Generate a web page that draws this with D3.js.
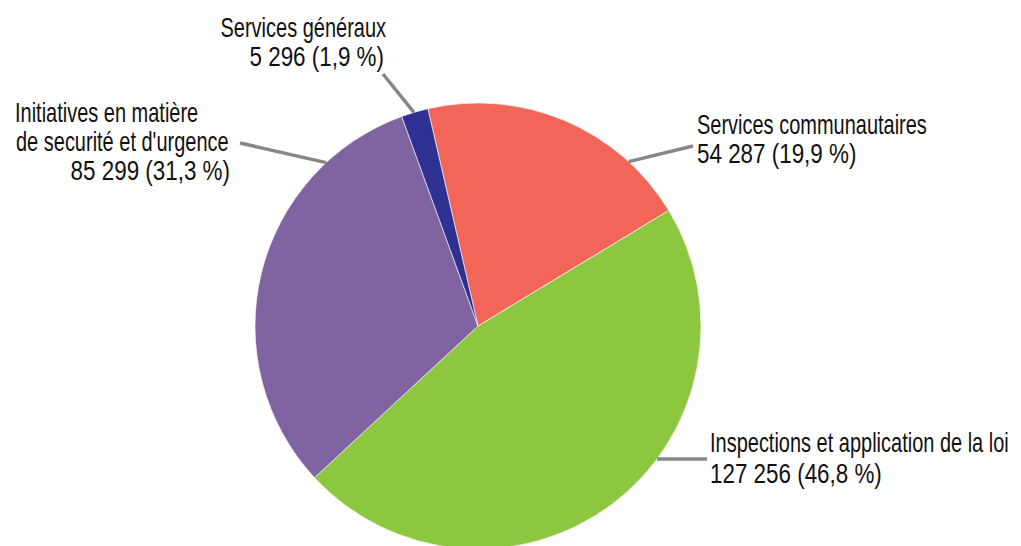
<!DOCTYPE html>
<html>
<head>
<meta charset="utf-8">
<script src="https://cdn.jsdelivr.net/npm/d3@7"></script>
<style>
  body { margin: 0; background: #fff; }
  text { font-family: "Liberation Sans", Arial, sans-serif; font-size: 27px; fill: #111; }
</style>
</head>
<body>
<script>
let categories = ['Services communautaires', 'Inspections et application de la loi', "Initiatives en matière de securité et d'urgence", 'Services généraux']
let values = [54287, 127256, 85299, 5296]
let valueLabels = ['54 287 (19,9 %)', '127 256 (46,8 %)', '85 299 (31,3 %)', '5 296 (1,9 %)']
let colors = ['#f26659', '#8dc63f', '#8064a2', '#2e3192']

// label layout: lines of text, where the leader line leaves the pie and where it ends
let labelLayout = [
    {lines: [['Services communautaires', 697, 134, 'start'], ['54 287 (19,9 %)', 697, 163, 'start']], angle: 42.5, end: [693, 146]},
    {lines: [['Inspections et application de la loi', 710, 452, 'start'], ['127 256 (46,8 %)', 710, 483, 'start']], angle: 126.6, end: [707, 459]},
    {lines: [['Initiatives en matière', 15, 122, 'start'], ["de securité et d'urgence", 16, 151, 'start'], ['85 299 (31,3 %)', 230, 180, 'end']], angle: -42.9, end: [240, 143]},
    {lines: [['Services généraux', 386, 37, 'end'], ['5 296 (1,9 %)', 384, 66, 'end']], angle: -16.7, end: [383, 74]}
]

const W = 1021, H = 546
const CX = 478, CY = 326, R = 223
const START = -13.0 * Math.PI / 180
const SQUEEZE = 0.74      // condensed look for words
const SQUEEZE_NUM = 0.83  // digits are wider in the original font

let svg = d3.select('body').append('svg')
    .attr('width', W)
    .attr('height', H)

let pie = d3.pie()
    .sort(null)
    .value(d => d)
    .startAngle(START)
    .endAngle(START + 2 * Math.PI)

let arc = d3.arc().innerRadius(0).outerRadius(R)

let g = svg.append('g').attr('transform', `translate(${CX},${CY})`)

g.selectAll('path')
    .data(pie(values))
    .join('path')
    .attr('d', arc)
    .attr('fill', (d, i) => colors[i])
    .attr('stroke', '#fff')
    .attr('stroke-width', 0.6)

// leader lines
svg.selectAll('.leader')
    .data(labelLayout)
    .join('line')
    .classed('leader', true)
    .attr('x1', d => CX + R * Math.sin(d.angle * Math.PI / 180))
    .attr('y1', d => CY - R * Math.cos(d.angle * Math.PI / 180))
    .attr('x2', d => d.end[0])
    .attr('y2', d => d.end[1])
    .attr('stroke', '#878787')
    .attr('stroke-width', 3.5)

// labels
labelLayout.forEach((lab, i) => {
    let n = lab.lines.length
    svg.selectAll('.lab' + i)
        .data(lab.lines)
        .join('text')
        .attr('class', 'lab' + i)
        .attr('transform', (d, j) => `translate(${d[1]},${d[2]}) scale(${j == n - 1 ? SQUEEZE_NUM : SQUEEZE},1)`)
        .attr('text-anchor', d => d[3])
        .text(d => d[0])
})
</script>
</body>
</html>
